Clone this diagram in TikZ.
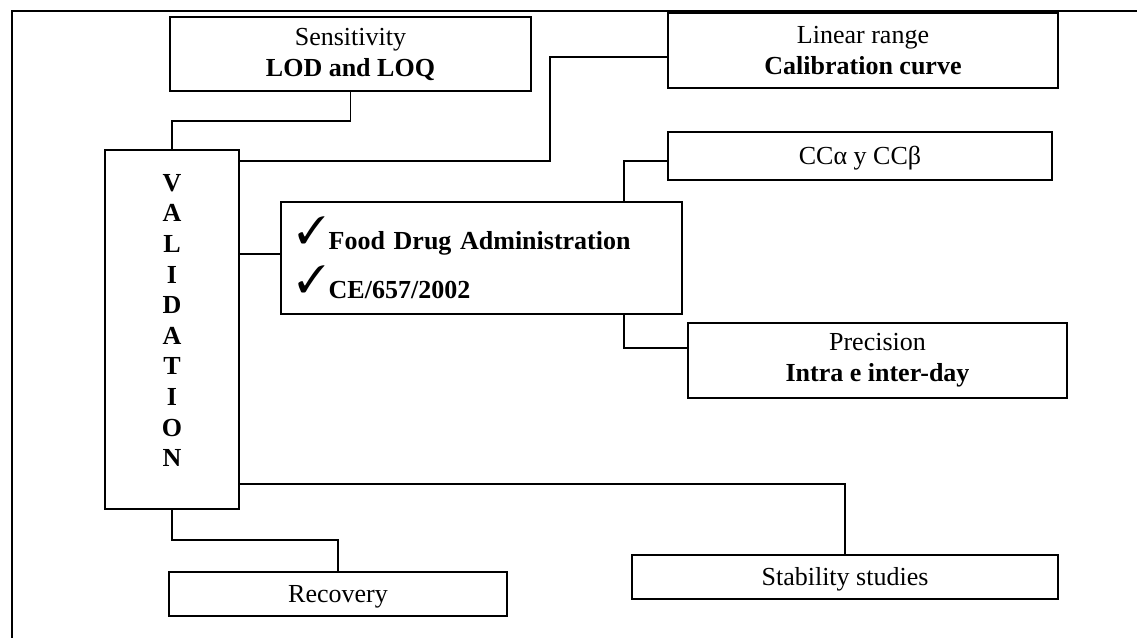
\documentclass[tikz,border=0pt]{standalone}
\usepackage{fontspec}
\setmainfont{Liberation Serif}
\usepackage{pifont}
\newcommand{\chk}{\raisebox{3pt}{\fontsize{19}{19}\selectfont\ding{51}}\hspace{1.5pt}}

\begin{document}
\begin{tikzpicture}[x=0.5pt,y=-0.5pt]

    \tikzset{
      box/.style={
        draw,
        line width=1pt,
        inner sep=0pt,
        align=center,
        font=\fontsize{13}{15.5}\selectfont,
      },
      single/.style={
        box,
        text height=10pt,
        text depth=1.4pt,
      },
      link/.style={
        line width=0.8pt,
      },
    }
    \useasboundingbox (0,0) rectangle (1137,638);
    \clip (0,0) rectangle (1137,638);
    \draw[line width=1pt] (12,660) -- (12,11) -- (1160,11);

	\node[box, minimum width=180.5pt, minimum height=37pt] (sens) at (350.5,54) {Sensitivity\\\textbf{LOD and LOQ}};
	\node[box, minimum width=195pt, minimum height=37.5pt] (linear) at (863,50.5) {Linear range\\\textbf{Calibration curve}};
	\node[single, minimum width=192pt, minimum height=24pt] (cc) at (860,156) {CCα y CCβ};
	\node[box, minimum width=67pt, minimum height=179.5pt] (valid) at (172,329.5) {};
	\node[align=center, font=\fontsize{13}{15.3}\selectfont\bfseries] (vtext) at (172,320.5) {V\\A\\L\\I\\D\\A\\T\\I\\O\\N};
	\node[box, minimum width=200.5pt, minimum height=56pt, text width=184.5pt, align=left, font=\fontsize{13}{24.5}\selectfont\bfseries] (main) at (481.5,258) {\chk Food Drug Administration\\\chk CE/657/2002};
	\node[box, minimum width=189.5pt, minimum height=37.5pt] (prec) at (877.5,360.5) {Precision\\\textbf{Intra e inter-day}};
	\node[single, minimum width=213pt, minimum height=22pt] (stab) at (845,577) {Stability studies};
	\node[single, minimum width=169pt, minimum height=22pt] (recov) at (338,594) {Recovery};

	\draw[link] (sens.south) -- (sens.south |- 0,121) -| (valid.north);
	\draw[link] (valid.east |- 0,161) -- (550,161) |- (linear.west |- 0,57);
	\draw[link] (valid.east |- 0,254) -- (main.west |- 0,254);
	\draw[link] (main.north -| 624,0) |- (cc.west |- 0,161);
	\draw[link] (main.south -| 624,0) |- (prec.west |- 0,348);
	\draw[link] (valid.east |- 0,484) -| (stab.north);
	\draw[link] (valid.south) -- (valid.south |- 0,540) -| (recov.north);

\end{tikzpicture}
\end{document}
